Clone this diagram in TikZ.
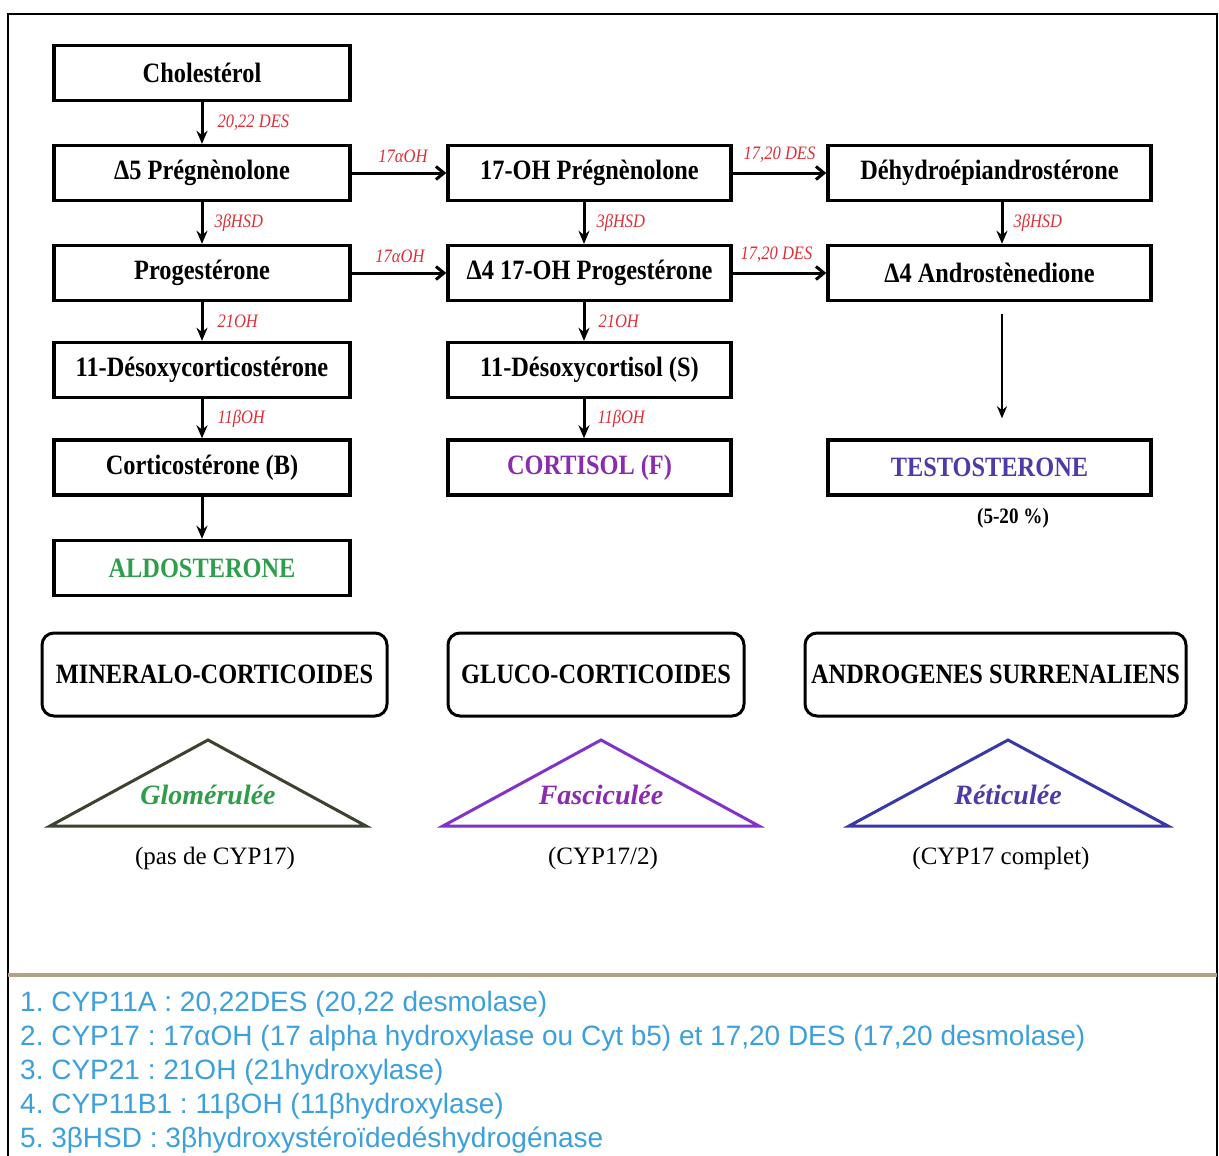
\documentclass[tikz,border=0pt]{standalone}
\usepackage{fontspec}
\setmainfont{Liberation Serif}
\newfontfamily\bxf[FakeStretch=0.87]{Liberation Serif}
\setsansfont{Liberation Sans}
\usetikzlibrary{arrows.meta}
\frenchspacing
\definecolor{enzred}{HTML}{E02E38}
\definecolor{aldo}{HTML}{2E9E4A}
\definecolor{corti}{HTML}{8A2BB0}
\definecolor{testo}{HTML}{4B3CA8}
\definecolor{glom}{HTML}{3B4230}
\definecolor{fasc}{HTML}{8232C8}
\definecolor{reti}{HTML}{3838A8}
\definecolor{legblue}{HTML}{3CA0DC}
\definecolor{sep}{HTML}{B0A282}
\tikzset{
  stepbox/.style={draw, line width=3.4pt, minimum height=55pt, inner sep=0pt,
    font=\bxf\bfseries\fontsize{28}{30}\selectfont},
  groupbox/.style={draw, line width=3pt, rounded corners=12pt, minimum height=83pt, inner sep=0pt,
    font=\bxf\bfseries\fontsize{28}{30}\selectfont},
  enz/.style={text=enzred, inner sep=0pt, font=\bxf\itshape\fontsize{19}{20}\selectfont},
  varrow/.style={line width=3pt, -{Stealth[length=13pt,width=11pt]}},
  harrow/.style={line width=3pt, -{Straight Barb[length=8pt,width=13pt]}},
  zone/.style={inner sep=0pt, font=\bfseries\itshape\fontsize{28}{30}\selectfont},
  capt/.style={inner sep=0pt, font=\fontsize{25}{27}\selectfont},
  leg/.style={anchor=base west, inner sep=0pt, text=legblue, font=\sffamily\fontsize{28}{30}\selectfont},
  tri/.style={line width=3pt, line join=miter}
}
\begin{document}
\begin{tikzpicture}[x=1pt,y=-1pt]
\useasboundingbox (0,0) rectangle (1219,1156);
\fill[white] (0,0) rectangle (1219,1156);
% frame
\draw[line width=2.5pt] (8,1160) -- (8,14) -- (1217,14) -- (1217,1160);
\draw[line width=4.5pt, sep] (8,975) -- (1217,975);

% left column
\node[stepbox, minimum width=296pt] (chol) at (202,73) {Cholestérol};
\node[stepbox, minimum width=296pt] (preg) at (202,173) {Δ5 Prégnènolone};
\node[stepbox, minimum width=296pt] (prog) at (202,273) {Progestérone};
\node[stepbox, minimum width=296pt] (doc) at (202,370) {11-Désoxycorticostérone};
\node[stepbox, minimum width=296pt] (cortb) at (202,467.5) {Corticostérone (B)};
\node[stepbox, minimum width=296pt, text=aldo] (aldo) at (202,568) {ALDOSTERONE};

% middle column
\node[stepbox, minimum width=283pt] (ohpreg) at (589.5,173) {17-OH Prégnènolone};
\node[stepbox, minimum width=283pt] (ohprog) at (589.5,273) {Δ4 17-OH Progestérone};
\node[stepbox, minimum width=283pt] (desox) at (589.5,370) {11-Désoxycortisol (S)};
\node[stepbox, minimum width=283pt, text=corti] (cortf) at (589.5,467.5) {CORTISOL (F)};

% right column
\node[stepbox, minimum width=323pt] (dhea) at (989.5,173) {Déhydroépiandrostérone};
\node[stepbox, minimum width=323pt] (andro) at (989.5,273) {Δ4 Androstènedione};
\node[stepbox, minimum width=323pt, text=testo] (testo) at (989.5,467.5) {TESTOSTERONE};
\node[inner sep=0pt, font=\bxf\bfseries\fontsize{22}{24}\selectfont] (pct) at (1013,518) {(5-20 \%)};

% vertical arrows left
\draw[varrow] (chol) -- node[enz, anchor=west, xshift=14pt] (l1) {20,22 DES} (preg);
\draw[varrow] (preg) -- node[enz, anchor=west, xshift=11pt] (l2) {3βHSD} (prog);
\draw[varrow] (prog) -- node[enz, anchor=west, xshift=14pt] (l3) {21OH} (doc);
\draw[varrow] (doc) -- node[enz, anchor=west, xshift=14pt] (l4) {11βOH} (cortb);
\draw[varrow] (cortb) -- (aldo);

% vertical arrows middle
\draw[varrow] ([xshift=-5.5pt]ohpreg.south) -- node[enz, anchor=west, xshift=11pt] (m1) {3βHSD} ([xshift=-5.5pt]ohprog.north);
\draw[varrow] ([xshift=-5.5pt]ohprog.south) -- node[enz, anchor=west, xshift=13pt] (m2) {21OH} ([xshift=-5.5pt]desox.north);
\draw[varrow] ([xshift=-5.5pt]desox.south) -- node[enz, anchor=west, xshift=12pt] (m3) {11βOH} ([xshift=-5.5pt]cortf.north);

% vertical arrows right
\draw[varrow] ([xshift=12.5pt]dhea.south) -- node[enz, anchor=west, xshift=10pt] (r1) {3βHSD} ([xshift=12.5pt]andro.north);
\draw[line width=2.4pt, -{Stealth[length=12pt,width=10pt]}, shorten <=12pt, shorten >=20pt] ([xshift=12.5pt]andro.south) -- ([xshift=12.5pt]testo.north);

% horizontal arrows
\draw[harrow] (preg) -- node[enz, above=9pt, xshift=4pt] (h1) {17αOH} (ohpreg);
\draw[harrow] (prog) -- node[enz, above=9pt, xshift=1pt] (h2) {17αOH} (ohprog);
\draw[harrow] (ohpreg) -- node[enz, above=9pt] (h3) {17,20 DES} (dhea);
\draw[harrow] (ohprog) -- node[enz, above=9pt, xshift=-3pt] (h4) {17,20 DES} (andro);

% group boxes
\node[groupbox, minimum width=345pt] (mineral) at (214.5,674.5) {MINERALO-CORTICOIDES};
\node[groupbox, minimum width=296pt] (gluco) at (596,674.5) {GLUCO-CORTICOIDES};
\node[groupbox, minimum width=381pt] (andg) at (995.5,674.5) {ANDROGENES SURRENALIENS};

% zone triangles
\draw[tri, glom] (208,740) -- (366,826) -- (50,826) -- cycle;
\draw[tri, fasc] (601,740) -- (759,826) -- (443,826) -- cycle;
\draw[tri, reti] (1008,740) -- (1168,826) -- (849,826) -- cycle;
\node[zone, text=aldo] (zg) at (208,795) {Glomérulée};
\node[zone, text=corti] (zf) at (601,795) {Fasciculée};
\node[zone, text=testo] (zr) at (1008,795) {Réticulée};
\node[capt] (cg) at (215,858) {(pas de CYP17)};
\node[capt] (cf) at (603,858) {(CYP17/2)};
\node[capt] (cr) at (1001,858) {(CYP17 complet)};

% legend
\node[leg] (k1) at (20,1011) {1. CYP11A : 20,22DES (20,22 desmolase)};
\node[leg] (k2) at (20,1045) {2. CYP17 : 17αOH (17 alpha hydroxylase ou Cyt b5) et 17,20 DES (17,20 desmolase)};
\node[leg] (k3) at (20,1079) {3. CYP21 : 21OH (21hydroxylase)};
\node[leg] (k4) at (20,1113) {4. CYP11B1 : 11βOH (11βhydroxylase)};
\node[leg] (k5) at (20,1147) {5. 3βHSD : 3βhydroxystéroïdedéshydrogénase};
\end{tikzpicture}
\end{document}
